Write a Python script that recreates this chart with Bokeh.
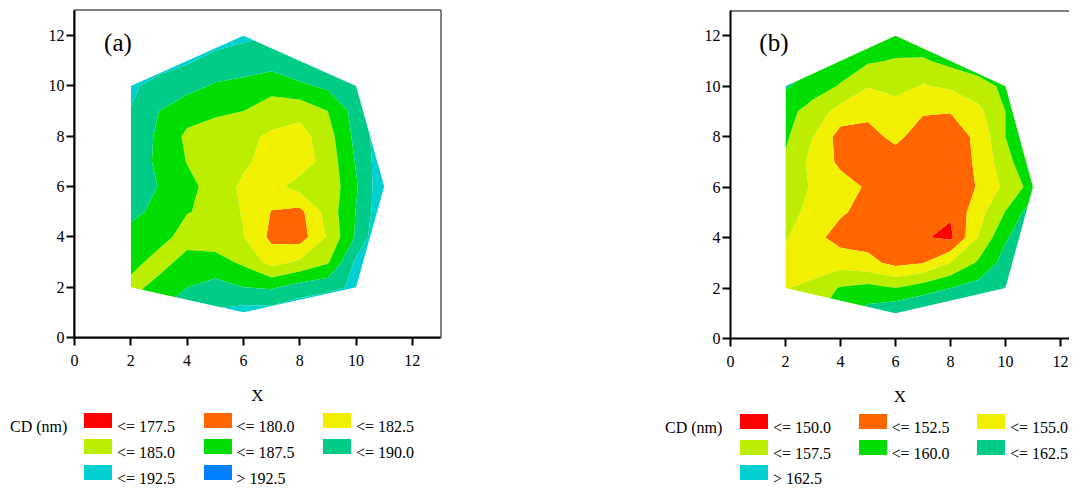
import numpy as np
from bokeh.plotting import figure
from bokeh.models import Range1d, Label, Span, FixedTicker, Div
from bokeh.layouts import row, column
from bokeh.embed import file_html
from bokeh.resources import INLINE

# ---------------- data ----------------
grid_x = [2, 3, 4, 5, 6, 7, 8, 9, 10, 11]
grid_y = [1, 2, 3, 4, 5, 6, 7, 8, 9, 10, 11, 12]

# CD (nm) read at grid nodes, rows y = 1 .. 12, columns x = 2 .. 11
cd_a = [
    [186.0, 187.5, 189.0, 190.3, 191.0, 191.0, 192.0, 193.0, 193.0, 193.0],
    [183.3, 186.8, 187.5, 188.3, 187.5, 187.2, 188.5, 189.2, 190.5, 193.0],
    [186.8, 183.0, 186.8, 186.0, 184.5, 181.5, 182.9, 184.7, 190.5, 193.0],
    [186.8, 186.8, 183.0, 183.5, 182.6, 179.4, 178.8, 182.8, 187.8, 193.0],
    [188.0, 187.0, 185.2, 184.0, 182.3, 179.9, 179.3, 183.5, 187.6, 192.0],
    [189.3, 187.4, 185.7, 184.0, 182.0, 181.6, 183.5, 183.2, 187.2, 192.0],
    [189.0, 187.0, 184.9, 183.5, 183.0, 181.3, 181.2, 183.5, 187.7, 191.8],
    [189.5, 187.0, 184.5, 183.5, 183.3, 182.0, 181.5, 184.0, 188.2, 191.8],
    [189.9, 187.5, 186.0, 185.5, 185.0, 184.0, 183.3, 185.0, 188.5, 191.0],
    [190.4, 189.2, 188.3, 187.2, 186.7, 185.7, 187.0, 188.0, 189.5, 190.5],
    [191.0, 191.0, 190.3, 189.2, 189.0, 188.8, 189.7, 190.0, 190.0, 190.0],
    [191.5, 191.5, 191.2, 191.2, 190.4, 190.0, 189.8, 189.8, 189.8, 189.8],
]

cd_b = [
    [156.0, 157.0, 159.0, 161.0, 162.3, 163.0, 163.0, 163.5, 164.0, 164.0],
    [154.8, 155.9, 157.7, 158.3, 157.5, 158.8, 160.0, 161.0, 162.6, 164.0],
    [153.8, 153.3, 154.0, 153.2, 151.8, 152.4, 155.0, 157.8, 161.0, 163.0],
    [155.2, 153.3, 151.5, 151.5, 151.0, 150.2, 149.5, 155.0, 159.7, 162.0],
    [155.6, 154.5, 152.8, 151.7, 151.0, 150.6, 150.3, 154.0, 157.6, 161.5],
    [156.5, 154.7, 153.5, 152.2, 151.0, 150.8, 150.6, 152.7, 155.6, 158.5],
    [157.2, 154.2, 152.0, 151.5, 151.5, 151.0, 151.0, 152.9, 156.5, 160.0],
    [157.9, 155.0, 151.5, 151.8, 153.0, 151.5, 151.3, 153.0, 157.5, 160.0],
    [158.3, 156.5, 154.0, 153.0, 153.8, 152.7, 152.6, 154.3, 157.5, 160.0],
    [160.3, 158.6, 157.3, 155.1, 155.8, 154.8, 155.4, 156.5, 158.0, 160.0],
    [161.0, 160.5, 158.8, 157.8, 157.3, 157.2, 158.2, 159.0, 159.5, 160.0],
    [161.0, 160.5, 160.0, 159.8, 159.0, 159.3, 159.5, 159.8, 160.0, 160.0],
]

# boundary of the measured region (same for both maps)
hull_x = [2, 2, 6, 10, 11, 10, 6]
hull_y = [2, 10, 12, 10, 6, 2, 1]

levels_a = [170.0, 177.5, 180.0, 182.5, 185.0, 187.5, 190.0, 192.5, 200.0]
colors_a = ["#FF0000", "#FF6600", "#F0F000", "#BBEE00", "#00DD00", "#00CC88", "#00D0D0", "#0080FF"]
levels_b = [140.0, 150.0, 152.5, 155.0, 157.5, 160.0, 162.5, 170.0]
colors_b = ["#FF0000", "#FF6600", "#F0F000", "#BBEE00", "#00DD00", "#00CC88", "#00D0D0"]

tick_values = [0, 2, 4, 6, 8, 10, 12]

SERIF = "Liberation Serif"
PLOT_H = 408
LEG_H = 80
TXT_STYLE = ("position:absolute;line-height:16px;white-space:nowrap;"
             "font-family:Liberation Serif,Times New Roman,serif;font-size:16px;color:#000;")


def legend_labels(levels):
    labs = ["&lt;= %.1f" % lv for lv in levels[1:-1]]
    labs.append("&gt; %.1f" % levels[-2])
    return labs


def make_plot(z, levels, colors, tag, x_end, width, left, top, frame_w, frame_h, full_outline):
    p = figure(width=width, height=PLOT_H, x_range=Range1d(0, x_end), y_range=Range1d(0, 13),
               output_backend="svg", toolbar_location=None,
               min_border_left=left, min_border_right=width - left - frame_w,
               min_border_top=top, min_border_bottom=PLOT_H - top - frame_h)
    p.grid.visible = False
    p.background_fill_color = "white"
    p.border_fill_color = "white"

    zz = np.array(z, dtype=float)
    p.contour(x=grid_x, y=grid_y, z=zz, levels=levels, fill_color=colors)

    # white mask outside the measured region
    ox = [-1, x_end + 1, x_end + 1, -1]
    oy = [-1, -1, 14, 14]
    p.multi_polygons(xs=[[[ox, hull_x]]], ys=[[[oy, hull_y]]],
                     fill_color="white", line_color=None)

    for ax in (p.xaxis[0], p.yaxis[0]):
        ax.ticker = FixedTicker(ticks=tick_values)
        ax.axis_line_width = 2
        ax.axis_line_color = "black"
        ax.major_tick_line_width = 2
        ax.major_tick_line_color = "black"
        ax.major_tick_out = 8
        ax.major_tick_in = 0
        ax.minor_tick_line_color = None
        ax.major_label_text_font = SERIF
        ax.major_label_text_font_size = "16px"
        ax.major_label_text_color = "black"
    p.yaxis[0].major_label_standoff = 2
    p.xaxis[0].major_label_standoff = 9
    p.xaxis[0].axis_label = "X"
    p.xaxis[0].axis_label_text_font = SERIF
    p.xaxis[0].axis_label_text_font_size = "17px"
    p.xaxis[0].axis_label_text_font_style = "normal"
    p.xaxis[0].axis_label_text_color = "black"
    p.xaxis[0].axis_label_standoff = 17

    if full_outline:
        p.outline_line_color = "black"
        p.outline_line_width = 2
        p.outline_line_alpha = 1.0
    else:
        p.outline_line_color = None
        p.add_layout(Span(location=13, dimension="width", line_color="black", line_width=2))

    p.add_layout(Label(x=1.05, y=11.72, text=tag, text_font=SERIF, text_font_size="25px",
                       text_baseline="middle", text_color="black"))
    return p


def make_legend(levels, colors, width, x0, col_step, row_top, row_step, cd_x):
    labs = legend_labels(levels)
    parts = ['<div style="position:relative;width:%dpx;height:%dpx;overflow:hidden;">' % (width, LEG_H)]
    base1 = row_top + 19.5
    parts.append('<span style="%sleft:%dpx;top:%.1fpx;">CD (nm)</span>'
                 % (TXT_STYLE, cd_x, base1 - 13.4))
    for i, (c, lab) in enumerate(zip(colors, labs)):
        left = x0 + (i % 3) * col_step
        top = row_top + (i // 3) * row_step
        parts.append('<span style="position:absolute;left:%.1fpx;top:%.1fpx;width:28px;height:15px;'
                     'background:%s;"></span>' % (left, top, c))
        parts.append('<span style="%sleft:%.1fpx;top:%.1fpx;">%s</span>'
                     % (TXT_STYLE, left + 33, top + 19.5 - 13.4, lab))
    parts.append('</div>')
    return Div(text="".join(parts), width=width, height=LEG_H, margin=(0, 0, 0, 0))


pa = make_plot(cd_a, levels_a, colors_a, "(a)", 13.0, 655, 74, 10, 366, 327, True)
pb = make_plot(cd_b, levels_b, colors_b, "(b)", 12.33, 414, 75, 10, 339, 329, False)
la = make_legend(levels_a, colors_a, 655, 84, 119.5, 5, 26, 10)
lb = make_legend(levels_b, colors_b, 414, 85, 118.5, 6, 25.5, 10)

layout = row(column(pa, la), column(pb, lb))
open("out.html", "w").write(file_html(layout, INLINE))
